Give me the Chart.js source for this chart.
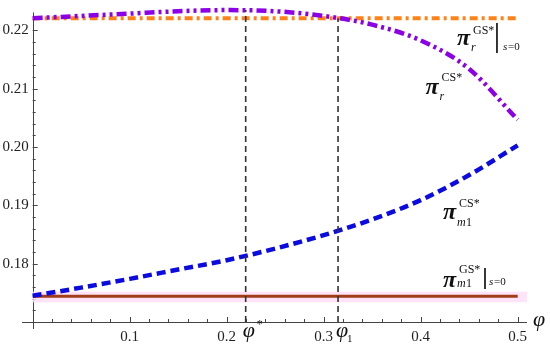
<!DOCTYPE html>
<html>
<head>
<meta charset="utf-8">
<script src="https://cdn.jsdelivr.net/npm/chart.js@4/dist/chart.umd.min.js"></script>
<style>
  body { margin: 0; background: #fff; }
  #wrap { width: 550px; height: 346px; }
</style>
</head>
<body>
<div id="wrap"><canvas id="myChart" width="550" height="346"></canvas></div>
<script>
// values
var phi = [0, 0.05, 0.1, 0.15, 0.2, 0.25, 0.3, 0.35, 0.4, 0.45, 0.5];
var piRCS = [0.2221, 0.2225, 0.2229, 0.2233, 0.2235, 0.2233, 0.2225, 0.2210, 0.2183, 0.2134, 0.2047];
var piM1CS = [0.1745, 0.1759, 0.1774, 0.1790, 0.1806, 0.1826, 0.1849, 0.1876, 0.1909, 0.1952, 0.2003];

var phiEnds = [0, 0.5];
var piRGS0 = [0.2221, 0.2221];
var piM1GS0 = [0.1744, 0.1744];
var bandEnds = [0, 0.51];
var bandLo = [0.1734, 0.1734];
var bandHi = [0.1752, 0.1752];

var phiStar = 0.2196;
var phiStarTop = 0.2235;
var phi1 = 0.3148;
var phi1Top = 0.2221;

var xTicks = [0.1, 0.2, 0.3, 0.4, 0.5];
var xTickLabels = ["0.1", "0.2", "0.3", "0.4", "0.5"];
var yTicks = [0.18, 0.19, 0.20, 0.21, 0.22];
var yTickLabels = ["0.18", "0.19", "0.20", "0.21", "0.22"];

function pts(xs, ys) {
  var out = [];
  for (var i = 0; i < xs.length; i++) out.push({x: xs[i], y: ys[i]});
  return out;
}

var serif = '"Liberation Serif", "DejaVu Serif", serif';

var axesAndText = {
  id: 'axesAndText',
  beforeDatasetsDraw: function(chart) {
    var ctx = chart.ctx, xs = chart.scales.x, ys = chart.scales.y;
    var x0 = xs.getPixelForValue(0), y0 = ys.getPixelForValue(0.17);
    ctx.save();
    ctx.strokeStyle = '#444';
    ctx.lineWidth = 1;
    ctx.beginPath();
    ctx.moveTo(xs.left, Math.round(y0) + 0.5);
    ctx.lineTo(xs.right, Math.round(y0) + 0.5);
    ctx.moveTo(Math.round(x0) + 0.5, ys.getPixelForValue(0.2231));
    ctx.lineTo(Math.round(x0) + 0.5, ys.bottom);
    // x ticks, pointing inward
    var i, v, px, len;
    for (i = 0; i <= 25; i++) {
      v = i * 0.02;
      px = Math.round(xs.getPixelForValue(v)) + 0.5;
      len = (i % 5 === 0) ? 5 : 3;
      ctx.moveTo(px, y0);
      ctx.lineTo(px, y0 - len);
    }
    for (i = 0; i <= 26; i++) {
      v = 0.17 + i * 0.002;
      px = Math.round(ys.getPixelForValue(v)) + 0.5;
      len = (i % 5 === 0) ? 5 : 3;
      ctx.moveTo(x0, px);
      ctx.lineTo(x0 + len, px);
    }
    ctx.stroke();

    ctx.fillStyle = '#222';
    ctx.font = '15px ' + serif;
    ctx.textBaseline = 'middle';
    ctx.textAlign = 'center';
    for (i = 0; i < xTicks.length; i++) {
      ctx.fillText(xTickLabels[i], xs.getPixelForValue(xTicks[i]), y0 + 15);
    }
    ctx.textAlign = 'right';
    for (i = 0; i < yTicks.length; i++) {
      ctx.fillText(yTickLabels[i], x0 - 4, ys.getPixelForValue(yTicks[i]));
    }
    ctx.restore();
  },
  afterDatasetsDraw: function(chart) {
    var ctx = chart.ctx, xs = chart.scales.x, ys = chart.scales.y;
    ctx.save();
    ctx.fillStyle = '#111';
    ctx.textBaseline = 'alphabetic';
    ctx.textAlign = 'left';
    function t(str, x, y, font) { ctx.font = font; ctx.fillText(str, x, y); }
    function bar(x, y1, y2) {
      ctx.strokeStyle = '#222'; ctx.lineWidth = 1.8;
      ctx.beginPath(); ctx.moveTo(x, y1); ctx.lineTo(x, y2); ctx.stroke();
    }
    var big = 'italic bold 24px ' + serif;
    var sup = '12px ' + serif;
    var sub = 'italic 12px ' + serif;
    var up = '12px ' + serif;

    // pi_r^{GS*}|_{s=0}
    var ax = xs.getPixelForValue(0.4374), ay = ys.getPixelForValue(0.2175);
    t('\u03C0', ax, ay, big);
    t('GS*', ax + 16, ay - 11, sup);
    t('r', ax + 14, ay + 6, sub);
    bar(ax + 40, ay - 22, ay + 8);
    t('s', ax + 46, ay + 5, 'italic 11px ' + serif);
    t('=0', ax + 51, ay + 5, '11px ' + serif);

    // pi_r^{CS*}
    ax = xs.getPixelForValue(0.405); ay = ys.getPixelForValue(0.2091);
    t('\u03C0', ax, ay, big);
    t('CS*', ax + 16, ay - 13, sup);
    t('r', ax + 14, ay + 6, sub);

    // pi_m1^{CS*}
    ax = xs.getPixelForValue(0.4230); ay = ys.getPixelForValue(0.1876);
    t('\u03C0', ax, ay, big);
    t('CS*', ax + 16, ay - 12, sup);
    t('m', ax + 14, ay + 7, sub);
    t('1', ax + 23, ay + 7, up);

    // pi_m1^{GS*}|_{s=0}
    ax = xs.getPixelForValue(0.4230); ay = ys.getPixelForValue(0.1760);
    t('\u03C0', ax, ay, big);
    t('GS*', ax + 16, ay - 14, sup);
    t('m', ax + 14, ay, sub);
    t('1', ax + 23, ay, up);
    bar(ax + 42, ay - 19, ay + 2);
    t('s', ax + 46, ay - 2, 'italic 11px ' + serif);
    t('=0', ax + 51, ay - 2, '11px ' + serif);

    // axis label and marks under the axis
    var y0 = ys.getPixelForValue(0.17);
    t('\u03C6', xs.right + 6, y0 + 4, 'italic 22px ' + serif);
    var sx = xs.getPixelForValue(phiStar);
    t('\u03C6', sx - 3, y0 + 15, 'italic 22px ' + serif);
    t('*', sx + 11, y0 + 6, '12px ' + serif);
    var fx = xs.getPixelForValue(phi1);
    t('\u03C6', fx - 2, y0 + 15, 'italic 22px ' + serif);
    t('1', fx + 9, y0 + 20, '11px ' + serif);
    ctx.restore();
  }
};

var data = {
  datasets: [
    {
      label: 'band low',
      data: pts(bandEnds, bandLo),
      borderWidth: 0,
      pointRadius: 0,
      fill: false,
      order: 10
    },
    {
      label: 'band high',
      data: pts(bandEnds, bandHi),
      borderWidth: 0,
      pointRadius: 0,
      backgroundColor: 'rgba(255, 222, 247, 0.85)',
      fill: '-1',
      order: 9
    },
    {
      label: 'pi_m1 GS s=0',
      data: pts(phiEnds, piM1GS0),
      borderColor: 'rgb(160, 62, 25)',
      borderWidth: 3,
      pointRadius: 0,
      fill: false,
      order: 8
    },
    {
      label: 'pi_r GS s=0',
      data: pts(phiEnds, piRGS0),
      borderColor: 'rgb(255, 130, 25)',
      borderWidth: 4,
      borderDash: [8, 4, 3, 4],
      pointRadius: 0,
      fill: false,
      order: 7
    },
    {
      label: 'pi_m1 CS',
      data: pts(phi, piM1CS),
      borderColor: 'rgb(10, 10, 225)',
      borderWidth: 4.5,
      borderDash: [9, 5],
      pointRadius: 0,
      fill: false,
      cubicInterpolationMode: 'monotone',
      order: 5
    },
    {
      label: 'pi_r CS',
      data: pts(phi, piRCS),
      borderColor: 'rgb(140, 0, 230)',
      borderWidth: 4.5,
      borderDash: [10, 4, 3, 4, 3, 4],
      pointRadius: 0,
      fill: false,
      cubicInterpolationMode: 'monotone',
      order: 4
    },
    {
      label: 'phi star',
      data: pts([phiStar, phiStar], [0.17, phiStarTop]),
      borderColor: '#333',
      borderWidth: 1.6,
      borderDash: [6, 4],
      pointRadius: 0,
      fill: false,
      order: 2
    },
    {
      label: 'phi 1',
      data: pts([phi1, phi1], [0.17, phi1Top]),
      borderColor: '#333',
      borderWidth: 1.6,
      borderDash: [6, 4],
      pointRadius: 0,
      fill: false,
      order: 2
    }
  ]
};

var options = {
  responsive: false,
  animation: false,
  events: [],
  layout: { padding: { left: 22, right: 23, top: 0, bottom: 17 } },
  plugins: { legend: { display: false }, tooltip: { enabled: false } },
  scales: {
    x: { type: 'linear', display: false, min: -0.011, max: 0.5096 },
    y: { type: 'linear', display: false, min: 0.1688, max: 0.22523 }
  }
};

var ctx = document.getElementById('myChart').getContext('2d');
var lineChart = new Chart(ctx, {
  type: 'line',
  data: data,
  options: options,
  plugins: [axesAndText]
});
</script>
</body>
</html>
